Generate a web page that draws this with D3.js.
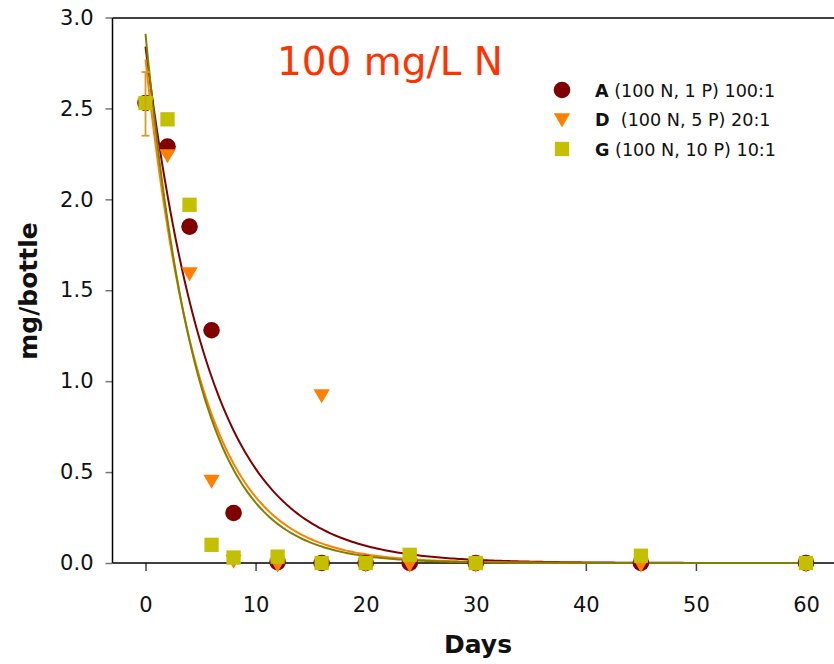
<!DOCTYPE html>
<html>
<head>
<meta charset="utf-8">
<script src="https://cdn.jsdelivr.net/npm/d3@7"></script>
<style>
  body { margin: 0; background: #fff; }
  svg { display: block; font-family: "DejaVu Sans", sans-serif; }
</style>
</head>
<body>
<svg id="chart" width="834" height="664"></svg>
<script>
// ---- data ----
const days = [0, 2, 4, 6, 8, 12, 16, 20, 24, 30, 45, 60];
const seriesA = [2.53, 2.29, 1.85, 1.28, 0.275, 0.005, 0.0, 0.0, 0.0, 0.0, 0.0, 0.0];
const seriesD = [2.53, 2.25, 1.60, 0.46, 0.02, 0.0, 0.93, 0.0, 0.0, 0.0, 0.0, 0.0];
const seriesG = [2.53, 2.44, 1.97, 0.10, 0.03, 0.035, 0.0, 0.0, 0.045, 0.0, 0.04, 0.0];
// exponential fit parameters [amplitude, rate] : y = a * exp(-b * t)
const fitA = [2.84, 0.170];
const fitD = [2.77, 0.203];
const fitG = [2.91, 0.217];
// error bar at day 0 [day, low, high]
const errorBar = [0, 2.35, 2.70];
const xTicks = [0, 10, 20, 30, 40, 50, 60];
const yTicks = [0, 0.5, 1.0, 1.5, 2.0, 2.5, 3.0];
const legendKeys = ["A", "D", "G"];
const legendDesc = ["(100 N, 1 P) 100:1", " (100 N, 5 P) 20:1", "(100 N, 10 P) 10:1"];
const titleText = "100 mg/L N";
const xLabel = "Days";
const yLabel = "mg/bottle";

// ---- styles ----
const colA = "#800000", colD = "#FF8000", colG = "#C2C000", colGline = "#808000";
const colErr = "#D4A020";

const svg = d3.select("#chart");
const x = d3.scaleLinear().domain([0, 60]).range([145.5, 806]);
const y = d3.scaleLinear().domain([0, 3]).range([563, 17.5]);
const xLeft = 112.5, xRight = 834;

// frame line (top)
svg.append("line").attr("x1", xLeft).attr("x2", xRight).attr("y1", 18).attr("y2", 18)
  .attr("stroke", "#000").attr("stroke-width", 1.5);

// y axis
const yAxis = d3.axisLeft(y).tickValues(yTicks).tickFormat(d3.format(".1f")).tickSize(7).tickPadding(12);
const gy = svg.append("g").attr("transform", `translate(${xLeft},0)`).call(yAxis);
gy.select(".domain").remove();
gy.selectAll(".tick line").attr("stroke", "#777").attr("stroke-width", 1.5);
gy.selectAll(".tick text").attr("font-size", 21).attr("fill", "#111").attr("font-family", "DejaVu Sans");
svg.append("line").attr("x1", xLeft).attr("x2", xLeft).attr("y1", 18).attr("y2", 563)
  .attr("stroke", "#000").attr("stroke-width", 1.5);

// x axis
const xAxis = d3.axisBottom(x).tickValues(xTicks).tickFormat(d3.format("d")).tickSize(8).tickPadding(41);
const gx = svg.append("g").attr("transform", "translate(0,563)").call(xAxis);
gx.select(".domain").remove();
gx.selectAll(".tick line").attr("stroke", "#444").attr("stroke-width", 1.5);
gx.selectAll(".tick text").attr("font-size", 21).attr("fill", "#111").attr("font-family", "DejaVu Sans")
  .attr("dy", "0");
svg.append("line").attr("x1", xLeft).attr("x2", xRight).attr("y1", 563).attr("y2", 563)
  .attr("stroke", "#000").attr("stroke-width", 1.5);

// axis labels
svg.append("text").attr("x", 478).attr("y", 653).attr("text-anchor", "middle")
  .attr("font-size", 25).attr("font-weight", "bold").attr("fill", "#111").text(xLabel);
svg.append("text").attr("transform", "translate(37,291) rotate(-90)").attr("text-anchor", "middle")
  .attr("font-size", 25).attr("font-weight", "bold").attr("fill", "#111").text(yLabel);

// title
svg.append("text").attr("x", 390).attr("y", 75).attr("text-anchor", "middle")
  .attr("font-size", 39).attr("fill", "#FF3300").text(titleText);

// fit curves
const tSamples = d3.range(0, 60.01, 0.25);
const line = d3.line().x(d => x(d[0])).y(d => y(d[1])).curve(d3.curveLinear);
[[fitA, colA], [fitD, colD], [fitG, colGline]].forEach(([p, c]) => {
  svg.append("path")
    .datum(tSamples.map(t => [t, p[0] * Math.exp(-p[1] * t)]))
    .attr("d", line).attr("fill", "none").attr("stroke", c).attr("stroke-width", 2);
});

// points
const pts = (arr) => days.map((d, i) => ({ d, v: arr[i] }));
svg.append("g").selectAll("circle").data(pts(seriesA)).join("circle")
  .attr("cx", p => x(p.d)).attr("cy", p => y(p.v)).attr("r", 8.3).attr("fill", colA);

const tri = d3.symbol().type(d3.symbolTriangle).size(115);
svg.append("g").selectAll("path").data(pts(seriesD)).join("path")
  .attr("d", tri).attr("fill", colD)
  .attr("transform", p => `translate(${x(p.d)},${y(p.v)}) rotate(180)`);

const sq = 14.3;
svg.append("g").selectAll("rect").data(pts(seriesG)).join("rect")
  .attr("x", p => x(p.d) - sq / 2).attr("y", p => y(p.v) - sq / 2)
  .attr("width", sq).attr("height", sq).attr("fill", colG);

// error bar
const ex = x(errorBar[0]);
const eg = svg.append("g").attr("stroke", colErr).attr("stroke-width", 1.8);
eg.append("line").attr("x1", ex).attr("x2", ex).attr("y1", y(errorBar[1])).attr("y2", y(errorBar[2]));
eg.append("line").attr("x1", ex - 4).attr("x2", ex + 4).attr("y1", y(errorBar[1])).attr("y2", y(errorBar[1]));
eg.append("line").attr("x1", ex - 4).attr("x2", ex + 4).attr("y1", y(errorBar[2])).attr("y2", y(errorBar[2]));

// legend
const legY = [90, 119, 149];
const lg = svg.append("g");
lg.append("circle").attr("cx", 562).attr("cy", legY[0]).attr("r", 8.3).attr("fill", colA);
lg.append("path").attr("d", tri).attr("fill", colD).attr("transform", `translate(562,${legY[1] - 1}) rotate(180)`);
lg.append("rect").attr("x", 562 - sq / 2).attr("y", legY[2] - sq / 2).attr("width", sq).attr("height", sq).attr("fill", colG);
legendKeys.forEach((k, i) => {
  const t = lg.append("text").attr("x", 595).attr("y", legY[i] + 6.5).attr("font-size", 17.6).attr("fill", "#111")
    .attr("xml:space", "preserve").style("white-space", "pre");
  t.append("tspan").attr("font-weight", "bold").text(k);
  t.append("tspan").text(" " + legendDesc[i]);
});
</script>
</body>
</html>
